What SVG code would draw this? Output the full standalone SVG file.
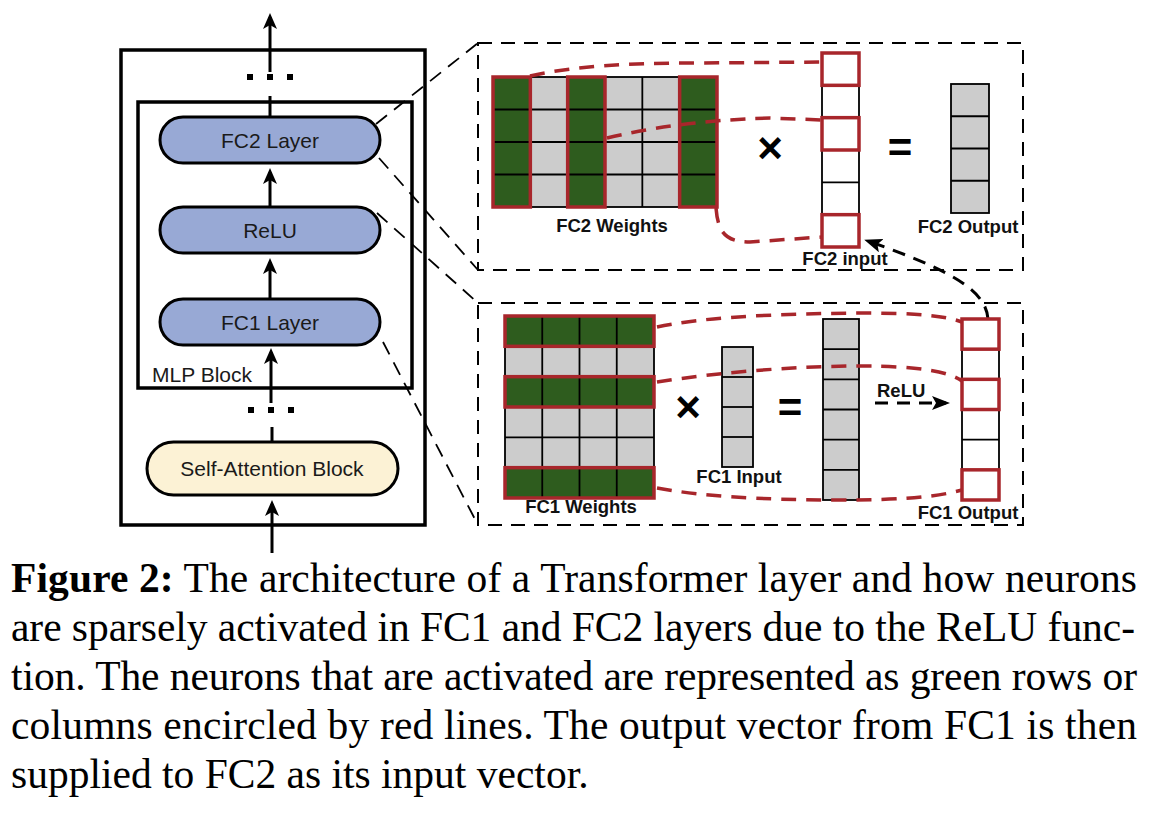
<svg xmlns="http://www.w3.org/2000/svg" width="1160" height="820" viewBox="0 0 1160 820">
<style>
.bg{fill:#ffffff}
.box{fill:none;stroke:#000;stroke-width:3.5}
.pill{fill:#98a9d5;stroke:#000;stroke-width:3}
.pillY{fill:#fcf2d5;stroke:#000;stroke-width:3}
.lbl{font-family:"Liberation Sans",Arial,sans-serif;font-size:21px;fill:#1a1a1a;text-anchor:middle}
.lblL{font-family:"Liberation Sans",Arial,sans-serif;font-size:21px;fill:#1a1a1a}
.bl{font-family:"Liberation Sans",Arial,sans-serif;font-size:18.5px;font-weight:bold;fill:#111;text-anchor:middle}
.op{font-family:"Liberation Sans",Arial,sans-serif;font-weight:bold;fill:#000;text-anchor:middle}
.arrow{stroke:#000;stroke-width:3;fill:none}
.dot{fill:#000}
.proj{stroke:#000;stroke-width:1.8;fill:none;stroke-dasharray:14 9}
.dbox{stroke:#000;stroke-width:2;fill:none;stroke-dasharray:14 9}
.gray{fill:#cccccc;stroke:#000;stroke-width:1.8}
.white{fill:#ffffff;stroke:#000;stroke-width:1.8}
.green{fill:#2e5c1e;stroke:none}
.grid{stroke:#000;stroke-width:1.8}
.red{fill:none;stroke:#a8262b;stroke-width:3.5}
.rcurve{fill:none;stroke:#a8262b;stroke-width:3.5;stroke-dasharray:15 10}
.kcurve{fill:none;stroke:#000;stroke-width:3;stroke-dasharray:13 9}
.cap{font-family:"Liberation Serif","Times New Roman",serif;font-size:41.5px;fill:#000}
</style>
<defs>
<marker id="ah" viewBox="0 0 16 14" refX="12" refY="7" markerWidth="16" markerHeight="14" markerUnits="userSpaceOnUse" orient="auto">
<path d="M0,0 L16,7 L0,14 L4,7 z" fill="#000"/>
</marker>
<marker id="ah2" viewBox="0 0 18 14" refX="14" refY="7" markerWidth="18" markerHeight="14" markerUnits="userSpaceOnUse" orient="auto">
<path d="M0,0 L18,7 L0,14 L4,7 z" fill="#000"/>
</marker>
</defs>
<rect class="bg" x="0" y="0" width="1160" height="820"/>

<g id="transformer-layer">
<rect class="box" x="121" y="50" width="304" height="475"/>
</g>
<g id="mlp-block">
<rect class="box" x="138" y="102" width="274" height="286"/>
<text class="lblL" x="152" y="382">MLP Block</text>
</g>
<g id="fc2-layer">
<rect class="pill" x="160" y="117" width="220" height="46" rx="23"/>
<text class="lbl" x="270" y="148">FC2 Layer</text>
</g>
<g id="relu">
<rect class="pill" x="160" y="207" width="220" height="46" rx="23"/>
<text class="lbl" x="270" y="238">ReLU</text>
</g>
<g id="fc1-layer">
<rect class="pill" x="160" y="299" width="220" height="46" rx="23"/>
<text class="lbl" x="270" y="330">FC1 Layer</text>
</g>
<g id="self-attention">
<rect class="pillY" x="147" y="442" width="251" height="53" rx="26.5"/>
<text class="lbl" x="272" y="476">Self-Attention Block</text>
</g>

<g id="connectors">
<line class="arrow" x1="270" y1="72" x2="270" y2="17" marker-end="url(#ah)"/>
<rect class="dot" x="247" y="74" width="6" height="6"/>
<rect class="dot" x="267" y="74" width="6" height="6"/>
<rect class="dot" x="287" y="74" width="6" height="6"/>
<line class="arrow" x1="270" y1="96" x2="270" y2="117"/>
<line class="arrow" x1="270" y1="207" x2="270" y2="172" marker-end="url(#ah)"/>
<line class="arrow" x1="270" y1="299" x2="270" y2="262" marker-end="url(#ah)"/>
<line class="arrow" x1="271" y1="403" x2="271" y2="352" marker-end="url(#ah)"/>
<rect class="dot" x="248" y="407" width="6" height="6"/>
<rect class="dot" x="268" y="407" width="6" height="6"/>
<rect class="dot" x="288" y="407" width="6" height="6"/>
<line class="arrow" x1="272" y1="427" x2="272" y2="442"/>
<line class="arrow" x1="272" y1="553" x2="272" y2="504" marker-end="url(#ah)"/>

<line class="proj" x1="376" y1="124" x2="478" y2="43"/>
<line class="proj" x1="379" y1="158" x2="478" y2="270"/>
<line class="proj" x1="377" y1="213" x2="478" y2="303"/>
<line class="proj" x1="383" y1="342" x2="478" y2="525"/>

<path class="kcurve" d="M988,319 C986,290 950,270 868,241" marker-end="url(#ah2)"/>
<line class="kcurve" x1="875" y1="403" x2="946" y2="403" marker-end="url(#ah2)"/>
</g>

<g id="fc2-panel">
<rect class="dbox" x="478" y="43" width="545" height="227"/>
<rect class="gray" x="493" y="77" width="224" height="130"/>
<rect class="green" x="493" y="77" width="37.33" height="130"/>
<rect class="green" x="567.67" y="77" width="37.33" height="130"/>
<rect class="green" x="679.67" y="77" width="37.33" height="130"/>
<line class="grid" x1="530.33" y1="77" x2="530.33" y2="207"/>
<line class="grid" x1="567.67" y1="77" x2="567.67" y2="207"/>
<line class="grid" x1="605" y1="77" x2="605" y2="207"/>
<line class="grid" x1="642.33" y1="77" x2="642.33" y2="207"/>
<line class="grid" x1="679.67" y1="77" x2="679.67" y2="207"/>
<line class="grid" x1="493" y1="109.5" x2="717" y2="109.5"/>
<line class="grid" x1="493" y1="142" x2="717" y2="142"/>
<line class="grid" x1="493" y1="174.5" x2="717" y2="174.5"/>
<rect class="red" x="493" y="77" width="37.33" height="130"/>
<rect class="red" x="567.67" y="77" width="37.33" height="130"/>
<rect class="red" x="679.67" y="77" width="37.33" height="130"/>
<text class="bl" x="612" y="232">FC2 Weights</text>

<text class="op" x="770" y="163" font-size="44">×</text>

<rect class="white" x="822" y="53" width="37" height="194"/>
<line class="grid" x1="822" y1="85.33" x2="859" y2="85.33"/>
<line class="grid" x1="822" y1="117.67" x2="859" y2="117.67"/>
<line class="grid" x1="822" y1="150" x2="859" y2="150"/>
<line class="grid" x1="822" y1="182.33" x2="859" y2="182.33"/>
<line class="grid" x1="822" y1="214.67" x2="859" y2="214.67"/>
<rect class="red" x="822" y="53" width="37" height="32.33"/>
<rect class="red" x="822" y="117.67" width="37" height="32.33"/>
<rect class="red" x="822" y="214.67" width="37" height="32.33"/>
<text class="bl" x="845" y="265">FC2 input</text>

<text class="op" x="900" y="162" font-size="42">=</text>

<rect class="gray" x="951" y="84" width="38" height="129"/>
<line class="grid" x1="951" y1="116.25" x2="989" y2="116.25"/>
<line class="grid" x1="951" y1="148.5" x2="989" y2="148.5"/>
<line class="grid" x1="951" y1="180.75" x2="989" y2="180.75"/>
<text class="bl" x="968" y="233">FC2 Output</text>

<path class="rcurve" d="M530,76 C575,66 625,63 700,63 L822,62"/>
<path class="rcurve" d="M607,138 C650,128 700,120 770,118 L822,120"/>
<path class="rcurve" d="M716,208 C718,232 725,242 750,242 L822,237"/>
</g>

<g id="fc1-panel">
<rect class="dbox" x="478" y="303" width="545" height="222"/>
<rect class="gray" x="505" y="316" width="149" height="182"/>
<rect class="green" x="505" y="316" width="149" height="30.33"/>
<rect class="green" x="505" y="376.67" width="149" height="30.33"/>
<rect class="green" x="505" y="467.67" width="149" height="30.33"/>
<line class="grid" x1="542.25" y1="316" x2="542.25" y2="498"/>
<line class="grid" x1="579.5" y1="316" x2="579.5" y2="498"/>
<line class="grid" x1="616.75" y1="316" x2="616.75" y2="498"/>
<line class="grid" x1="505" y1="346.33" x2="654" y2="346.33"/>
<line class="grid" x1="505" y1="376.67" x2="654" y2="376.67"/>
<line class="grid" x1="505" y1="407" x2="654" y2="407"/>
<line class="grid" x1="505" y1="437.33" x2="654" y2="437.33"/>
<line class="grid" x1="505" y1="467.67" x2="654" y2="467.67"/>
<rect class="red" x="505" y="316" width="149" height="30.33"/>
<rect class="red" x="505" y="376.67" width="149" height="30.33"/>
<rect class="red" x="505" y="467.67" width="149" height="30.33"/>
<text class="bl" x="581" y="513">FC1 Weights</text>

<text class="op" x="688" y="422" font-size="44">×</text>

<rect class="gray" x="722" y="347" width="31" height="120"/>
<line class="grid" x1="722" y1="377" x2="753" y2="377"/>
<line class="grid" x1="722" y1="407" x2="753" y2="407"/>
<line class="grid" x1="722" y1="437" x2="753" y2="437"/>
<text class="bl" x="739" y="483">FC1 Input</text>

<text class="op" x="790" y="422" font-size="42">=</text>

<rect class="gray" x="823" y="319" width="36" height="181"/>
<line class="grid" x1="823" y1="349.17" x2="859" y2="349.17"/>
<line class="grid" x1="823" y1="379.33" x2="859" y2="379.33"/>
<line class="grid" x1="823" y1="409.5" x2="859" y2="409.5"/>
<line class="grid" x1="823" y1="439.67" x2="859" y2="439.67"/>
<line class="grid" x1="823" y1="469.83" x2="859" y2="469.83"/>

<text class="bl" x="877" y="397" style="text-anchor:start">ReLU</text>

<rect class="white" x="962" y="319" width="37" height="181"/>
<line class="grid" x1="962" y1="349.17" x2="999" y2="349.17"/>
<line class="grid" x1="962" y1="379.33" x2="999" y2="379.33"/>
<line class="grid" x1="962" y1="409.5" x2="999" y2="409.5"/>
<line class="grid" x1="962" y1="439.67" x2="999" y2="439.67"/>
<line class="grid" x1="962" y1="469.83" x2="999" y2="469.83"/>
<rect class="red" x="962" y="319" width="37" height="30.17"/>
<rect class="red" x="962" y="379.33" width="37" height="30.17"/>
<rect class="red" x="962" y="469.83" width="37" height="30.17"/>
<text class="bl" x="968" y="519">FC1 Output</text>

<path class="rcurve" d="M657,327 C700,318 760,314 860,313 C920,313 945,316 962,322"/>
<path class="rcurve" d="M657,382 C720,372 800,366 860,366 C920,366 950,372 962,381"/>
<path class="rcurve" d="M657,488 C700,496 760,500 843,500 C910,500 940,496 962,490"/>
</g>

<g id="caption">
<text class="cap" x="11" y="592" textLength="1126" lengthAdjust="spacing"><tspan font-weight="bold">Figure 2:</tspan> The architecture of a Transformer layer and how neurons</text>
<text class="cap" x="11" y="641" textLength="1124" lengthAdjust="spacing">are sparsely activated in FC1 and FC2 layers due to the ReLU func-</text>
<text class="cap" x="11" y="690" textLength="1126" lengthAdjust="spacing">tion. The neurons that are activated are represented as green rows or</text>
<text class="cap" x="11" y="739" textLength="1126" lengthAdjust="spacing">columns encircled by red lines. The output vector from FC1 is then</text>
<text class="cap" x="11" y="788">supplied to FC2 as its input vector.</text>
</g>
</svg>
